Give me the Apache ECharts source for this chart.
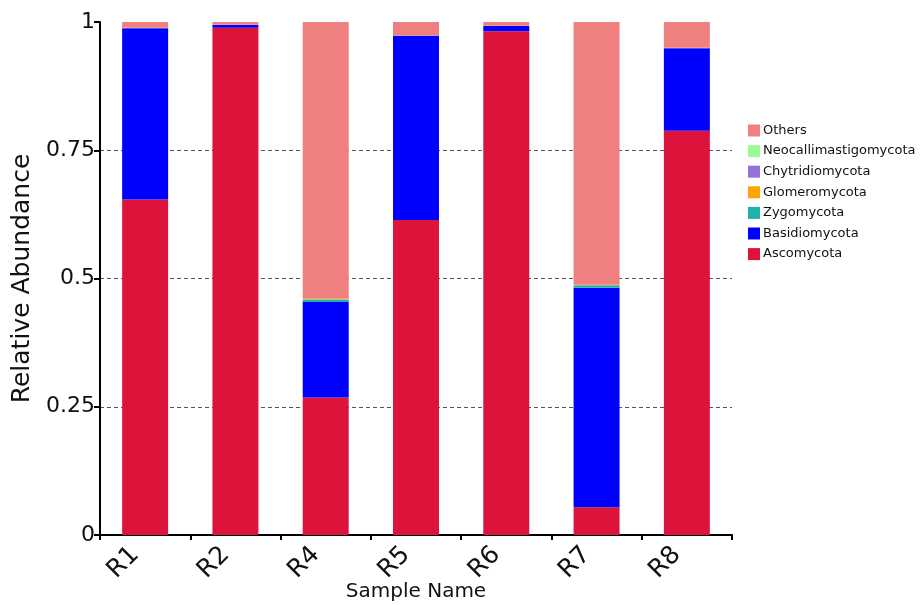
<!DOCTYPE html>
<html>
<head>
<meta charset="utf-8">
<script src="https://cdn.jsdelivr.net/npm/echarts@6/dist/echarts.min.js"></script>
<style>
  html, body { margin: 0; padding: 0; background: #ffffff; overflow: hidden; }
  #chart { width: 921px; height: 605px; }
</style>
</head>
<body>
<div id="chart"></div>
<script>
// Samples along the x axis
const samples = ['R1', 'R2', 'R4', 'R5', 'R6', 'R7', 'R8'];

// Relative abundance of each phylum per sample
const ascomycota            = [0.654, 0.989, 0.268, 0.614, 0.982, 0.054, 0.788];
const basidiomycota         = [0.334, 0.005, 0.186, 0.359, 0.010, 0.428, 0.161];
const zygomycota            = [0.0005, 0.0002, 0.005, 0.0005, 0.0003, 0.005, 0.0005];
const glomeromycota         = [0.0002, 0.0001, 0.0008, 0.0002, 0.0001, 0.0006, 0.0002];
const chytridiomycota       = [0.0001, 0.0001, 0.0003, 0.0001, 0.0001, 0.0002, 0.0001];
const neocallimastigomycota = [0, 0, 0.0002, 0, 0, 0.0001, 0];
const others                = [0.0112, 0.0056, 0.5397, 0.0262, 0.0075, 0.5121, 0.0502];

// Y axis tick values
const yTicks = [0, 0.25, 0.5, 0.75, 1];

const layers = [
  { name: 'Ascomycota', data: ascomycota, color: '#DC143C' },
  { name: 'Basidiomycota', data: basidiomycota, color: '#0000FF' },
  { name: 'Zygomycota', data: zygomycota, color: '#20B2AA' },
  { name: 'Glomeromycota', data: glomeromycota, color: '#FFA500' },
  { name: 'Chytridiomycota', data: chytridiomycota, color: '#9370DB' },
  { name: 'Neocallimastigomycota', data: neocallimastigomycota, color: '#98FB98' },
  { name: 'Others', data: others, color: '#F08080' }
];

const fontFamily = '"DejaVu Sans", Verdana, sans-serif';

const chart = echarts.init(document.getElementById('chart'), null, { renderer: 'canvas' });

chart.setOption({
  animation: false,
  backgroundColor: '#ffffff',
  grid: {
    left: 100, right: 189, top: 22, bottom: 70,
    containLabel: false,
    outerBoundsMode: 'none'
  },
  legend: {
    orient: 'vertical',
    left: 743,
    top: 119,
    itemWidth: 12,
    itemHeight: 12,
    itemGap: 7.6,
    icon: 'rect',
    textStyle: { fontFamily: fontFamily, fontSize: 13, color: '#111', padding: [0, 0, 0, -2] },
    data: layers.map(l => l.name).reverse()
  },
  xAxis: {
    type: 'category',
    data: samples,
    name: 'Sample Name',
    nameLocation: 'middle',
    nameGap: 47,
    nameMoveOverlap: false,
    nameTextStyle: { fontFamily: fontFamily, fontSize: 20, color: '#111' },
    axisLine: { lineStyle: { color: '#000', width: 2 } },
    axisTick: { show: true, length: 5, lineStyle: { color: '#000', width: 2 } },
    axisLabel: {
      rotate: 45, fontFamily: fontFamily, fontSize: 25, color: '#111',
      margin: 6, padding: [0, 14, 0, 0]
    }
  },
  yAxis: {
    type: 'value',
    min: yTicks[0],
    max: yTicks[yTicks.length - 1],
    interval: 0.25,
    name: 'Relative Abundance',
    nameLocation: 'middle',
    nameGap: 65,
    nameMoveOverlap: false,
    nameTextStyle: { fontFamily: fontFamily, fontSize: 25, color: '#111' },
    axisLine: { show: true, lineStyle: { color: '#000', width: 2 } },
    axisTick: { show: true, length: 6, lineStyle: { color: '#000', width: 2 } },
    axisLabel: {
      fontFamily: fontFamily, fontSize: 22, color: '#111', margin: 5,
      formatter: v => String(v)
    },
    splitLine: {
      show: true,
      showMinLine: false,
      showMaxLine: false,
      lineStyle: { color: '#555', type: [4, 3], width: 1 }
    }
  },
  series: layers.map(l => ({
    name: l.name,
    type: 'bar',
    stack: 'abundance',
    barWidth: 46,
    data: l.data,
    itemStyle: { color: l.color },
    emphasis: { disabled: true }
  }))
});
</script>
</body>
</html>
